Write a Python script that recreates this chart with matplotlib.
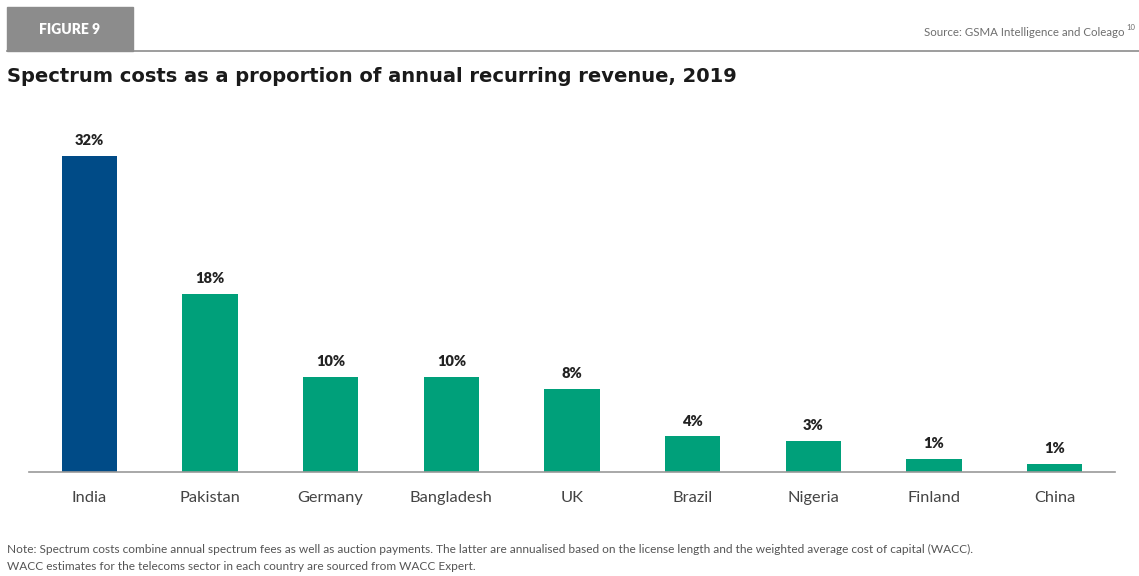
import numpy as np
import matplotlib
matplotlib.use('Agg')
import matplotlib.pyplot as plt
from matplotlib.patches import Rectangle

countries = ['India', 'Pakistan', 'Germany', 'Bangladesh', 'UK', 'Brazil', 'Nigeria', 'Finland', 'China']
cost_share = [32, 18, 9.6, 9.6, 8.4, 3.6, 3.1, 1.3, 0.8]
bar_colors = ['#004b87'] + ['#00a07a'] * 8

W, H = 1139, 576
fig = plt.figure(figsize=(W / 100, H / 100), dpi=100)

# header: grey tab, rule and source
fig.patches.append(Rectangle((7 / W, 1 - 51 / H), 126 / W, 44 / H, transform=fig.transFigure,
                             color='#8c8c8c', zorder=0))
fig.add_artist(plt.Line2D([7 / W, 1], [1 - 51 / H, 1 - 51 / H], transform=fig.transFigure,
                          color='#8c8c8c', lw=1.2))
fig.text(70 / W, 1 - 30 / H, 'FIGURE 9', color='white', fontsize=10, fontweight='heavy',
         ha='center', va='center', family='Lato')
fig.text(1125 / W, 1 - 33 / H, 'Source: GSMA Intelligence and Coleago', color='#6e6e6e',
         fontsize=8.3, ha='right', va='center', family='Lato')
fig.text(1126 / W, 1 - 28 / H, '10', color='#6e6e6e', fontsize=5.5, ha='left', va='center', family='Lato')

fig.text(7 / W, 1 - 77 / H, 'Spectrum costs as a proportion of annual recurring revenue, 2019',
         fontsize=14, fontweight='bold', color='#1a1a1a', va='center', family='DejaVu Sans')

ax = fig.add_axes([29 / W, 1 - 472 / H, (1115 - 29) / W, 356 / H])
x = np.arange(len(countries))
bars = ax.bar(x, cost_share, width=0.46, color=bar_colors, zorder=2)
for xi, v in zip(x, cost_share):
    ax.text(xi, v + 0.9, '{:.0f}%'.format(v), ha='center', va='bottom', fontsize=10.5,
            fontweight='heavy', color='#222222', family='Lato')

ax.set_xlim(-0.5, len(countries) - 0.5)
ax.set_ylim(0, 36)
ax.set_yticks([])
ax.set_xticks(x)
ax.set_xticklabels(countries, fontsize=11.8, color='#444444', family='Lato')
ax.tick_params(axis='x', length=0, pad=14)
for s in ['top', 'right', 'left']:
    ax.spines[s].set_visible(False)
ax.spines['bottom'].set_color('#999999')
ax.spines['bottom'].set_linewidth(1.2)

fig.text(7 / W, 1 - 549 / H,
         'Note: Spectrum costs combine annual spectrum fees as well as auction payments. '
         'The latter are annualised based on the license length and the weighted average cost of capital (WACC).',
         fontsize=8.6, color='#555555', va='center', family='Lato')
fig.text(7 / W, 1 - 566 / H,
         'WACC estimates for the telecoms sector in each country are sourced from WACC Expert.',
         fontsize=8.6, color='#555555', va='center', family='Lato')

fig.savefig('out.png', dpi=100)
